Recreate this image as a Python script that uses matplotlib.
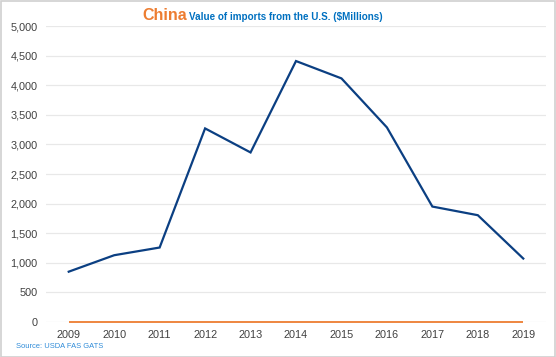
import matplotlib
matplotlib.use('Agg')
import matplotlib.pyplot as plt
from matplotlib.patches import Rectangle

# Datos
anios = ['2009', '2010', '2011', '2012', '2013', '2014', '2015', '2016', '2017', '2018', '2019']
importaciones = [850, 1128, 1258, 3270, 2864, 4408, 4115, 3287, 1950, 1804, 1072]
serie_cero = [0, 0, 0, 0, 0, 0, 0, 0, 0, 0, 0]
yticks = [0, 500, 1000, 1500, 2000, 2500, 3000, 3500, 4000, 4500, 5000]

plt.rcParams['font.family'] = ['Liberation Sans', 'DejaVu Sans']

W, H = 556, 357
fig = plt.figure(figsize=(W / 100, H / 100), dpi=100)
ax = fig.add_axes([46 / W, 1 - 322 / H, 500 / W, 296 / H])

x = list(range(len(anios)))
ax.plot(x, serie_cero, color='#ED7D31', lw=1.3, solid_capstyle='butt',
        zorder=3, clip_on=False)
ax.plot(x, importaciones, color='#0B3F82', lw=1.6, solid_joinstyle='miter', zorder=4)

ax.set_xlim(-0.5, len(anios) - 0.5)
ax.set_ylim(0, 5000)
ax.set_yticks(yticks)
ax.set_yticklabels([f'{v:,}' for v in yticks])
ax.set_xticks(x)
ax.set_xticklabels(anios)
ax.tick_params(axis='both', length=0, labelsize=7.8, colors='#404040')
ax.tick_params(axis='y', pad=6)
ax.tick_params(axis='x', pad=6)
ax.grid(axis='y', color='#E8E8E8', lw=0.9)
ax.set_axisbelow(True)
for s in ax.spines.values():
    s.set_visible(False)

# Titulo en dos partes
fig.text(187 / W, 1 - 19.5 / H, 'China', color='#ED7D31', fontsize=11.5,
         fontweight='bold', ha='right', va='baseline')
fig.text(189 / W, 1 - 19.5 / H, 'Value of imports from the U.S. ($Millions)',
         color='#0070C0', fontsize=7.1, fontweight='bold', ha='left', va='baseline')

fig.text(16 / W, 1 - 347 / H, 'Source: USDA FAS GATS', color='#2E8BD8',
         fontsize=5.4, ha='left', va='center')

# Borde de la figura
fig.patches.append(Rectangle((0.5 / W, 0.5 / H), 1 - 1.5 / W, 1 - 1.5 / H,
                             transform=fig.transFigure, fill=False,
                             edgecolor='#D0D0D0', lw=1.2))

fig.savefig('out.png', dpi=100)
